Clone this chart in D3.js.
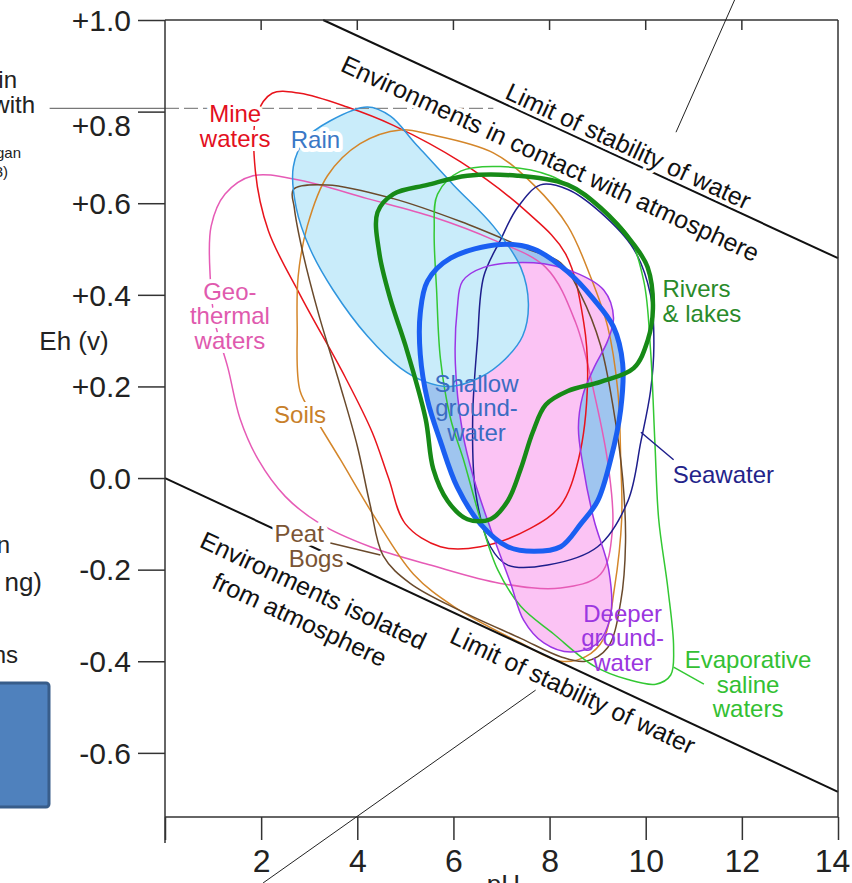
<!DOCTYPE html>
<html>
<head>
<meta charset="utf-8">
<script src="https://cdn.jsdelivr.net/npm/d3@7"></script>
<style>
  body { margin: 0; background: #fff; overflow: hidden; }
  svg { display: block; font-family: 'Liberation Sans', Arial, sans-serif; }
</style>
</head>
<body>
<script>
// axis ticks
const phTicks = [0, 2, 4, 6, 8, 10, 12, 14]
const ehTicks = [1.0, 0.8, 0.6, 0.4, 0.2, 0.0, -0.2, -0.4, -0.6]

// limits of stability of water [pH, Eh]
const upperLimit = [[3.29, 1.0], [14, 0.48]]
const lowerLimit = [[0, 0], [14, -0.685]]

// outlines of the water environments [pH, Eh]
const minePts = [[1.90, 0.79], [2.23, 0.84], [2.81, 0.84], [3.79, 0.81], [4.75, 0.77], [6.15, 0.69],
  [7.54, 0.58], [8.33, 0.49], [8.71, 0.34], [8.79, 0.21], [8.60, 0.04], [8.23, -0.06], [7.60, -0.11],
  [6.56, -0.15], [5.73, -0.15], [5.00, -0.10], [4.65, 0.00], [4.31, 0.10], [3.75, 0.22], [2.81, 0.40],
  [2.15, 0.54], [1.88, 0.67]]

const rainPts = [[2.67, 0.68], [2.92, 0.74], [3.44, 0.78], [4.21, 0.81], [4.69, 0.79], [5.21, 0.73],
  [6.00, 0.64], [6.83, 0.55], [7.40, 0.46], [7.56, 0.38], [7.44, 0.31], [7.08, 0.26], [6.56, 0.22],
  [5.94, 0.20], [5.42, 0.21], [4.90, 0.24], [4.21, 0.31], [3.50, 0.41], [3.02, 0.50], [2.73, 0.59]]

const geoPts = [[0.94, 0.44], [0.96, 0.55], [1.25, 0.62], [1.83, 0.66], [2.81, 0.65], [4.21, 0.61],
  [5.58, 0.57], [6.83, 0.52], [7.92, 0.46], [8.54, 0.34], [8.96, 0.17], [9.23, 0.02], [9.31, -0.11],
  [9.06, -0.21], [8.23, -0.24], [6.98, -0.23], [5.52, -0.19], [4.27, -0.15], [3.23, -0.10],
  [2.50, -0.04], [1.94, 0.04], [1.56, 0.13], [1.31, 0.24], [1.04, 0.34]]

const soilPts = [[2.81, 0.19], [2.75, 0.33], [2.77, 0.44], [2.96, 0.55], [3.38, 0.66], [4.06, 0.73],
  [4.90, 0.76], [5.52, 0.75], [6.83, 0.71], [7.67, 0.64], [8.38, 0.55], [8.85, 0.44], [9.21, 0.33],
  [9.42, 0.19], [9.48, 0.04], [9.50, -0.09], [9.35, -0.24], [9.13, -0.35], [8.75, -0.39], [8.23, -0.40],
  [7.40, -0.36], [6.00, -0.28], [5.17, -0.21], [4.33, -0.08], [3.65, 0.04], [3.13, 0.13]]

const peatPts = [[2.67, 0.63], [3.38, 0.64], [4.75, 0.61], [6.15, 0.56], [7.54, 0.50], [8.23, 0.47],
  [8.65, 0.40], [9.06, 0.29], [9.33, 0.15], [9.52, 0.00], [9.58, -0.14], [9.48, -0.27], [9.21, -0.37],
  [8.75, -0.40], [8.23, -0.39], [7.40, -0.35], [6.15, -0.29], [5.10, -0.23], [4.54, -0.17],
  [4.27, -0.06], [4.00, 0.07], [3.65, 0.20], [3.19, 0.36], [2.85, 0.50], [2.69, 0.59]]

const riverPts = [[4.42, 0.58], [4.75, 0.62], [5.46, 0.64], [6.29, 0.66], [7.33, 0.66], [8.38, 0.64],
  [9.06, 0.59], [9.75, 0.51], [10.04, 0.46], [10.15, 0.37], [10.04, 0.30], [9.75, 0.24], [9.06, 0.21],
  [8.38, 0.19], [7.92, 0.16], [7.65, 0.10], [7.40, 0.02], [7.13, -0.05], [6.77, -0.09], [6.29, -0.09],
  [5.88, -0.05], [5.58, 0.02], [5.42, 0.13], [5.00, 0.29], [4.69, 0.39], [4.46, 0.49]]

const evapPts = [[5.67, 0.62], [6.15, 0.67], [6.98, 0.68], [8.02, 0.66], [8.92, 0.60], [9.63, 0.53],
  [9.96, 0.43], [10.10, 0.28], [10.19, 0.08], [10.27, -0.09], [10.46, -0.24], [10.58, -0.37],
  [10.52, -0.43], [10.21, -0.45], [9.63, -0.44], [8.92, -0.41], [8.08, -0.34], [7.40, -0.28],
  [6.92, -0.20], [6.56, -0.09], [6.21, 0.04], [5.94, 0.13], [5.73, 0.26], [5.65, 0.41], [5.60, 0.54]]

const seaPts = [[7.81, 0.64], [8.38, 0.63], [9.06, 0.58], [9.75, 0.50], [10.10, 0.40], [10.17, 0.29],
  [10.10, 0.19], [9.90, 0.08], [9.63, -0.05], [9.00, -0.15], [7.96, -0.19], [7.13, -0.19],
  [6.77, -0.15], [6.46, -0.03], [6.40, 0.13], [6.50, 0.30], [6.63, 0.44], [6.98, 0.52], [7.33, 0.59]]

const shallowPts = [[5.46, 0.43], [5.94, 0.48], [6.98, 0.51], [7.67, 0.50], [8.38, 0.45], [8.92, 0.39],
  [9.33, 0.33], [9.52, 0.25], [9.48, 0.15], [9.27, 0.04], [9.00, -0.05], [8.65, -0.10], [8.23, -0.15],
  [7.67, -0.16], [7.13, -0.15], [6.56, -0.10], [6.08, -0.02], [5.73, 0.08], [5.46, 0.17], [5.31, 0.27],
  [5.31, 0.36]]

const deeperPts = [[6.08, 0.37], [6.19, 0.43], [6.63, 0.46], [7.67, 0.47], [8.50, 0.45], [9.13, 0.41],
  [9.33, 0.35], [9.21, 0.30], [8.92, 0.24], [8.69, 0.18], [8.60, 0.11], [8.69, 0.03], [8.92, -0.09],
  [9.23, -0.20], [9.27, -0.30], [9.00, -0.36], [8.44, -0.38], [7.88, -0.36], [7.46, -0.31],
  [7.19, -0.23], [6.77, -0.11], [6.42, 0.00], [6.19, 0.10], [6.04, 0.25]]

// leader lines [pH, Eh]
const grayLine = [[-2.4, 0.807], [0, 0.807], [6.83, 0.807]]
const topLeader = [[11.85, 1.044], [10.63, 0.755]]
const bottomLeader = [[2.04, -0.884], [7.71, -0.463]]
const seaLeader = [[9.90, 0.10], [10.58, 0.04]]
const evapLeader = [[10.58, -0.413], [11.21, -0.45]]
const peatLeader = [[3.44, -0.142], [4.48, -0.168]]

const W = 852, H = 883
const x = d3.scaleLinear().domain([0, 14]).range([165, 838])
const y = d3.scaleLinear().domain([-0.74, 1.0]).range([817, 20])

const svg = d3.select('body')
  .append('svg')
  .attr('width', W)
  .attr('height', H)

const closed = d3.line()
  .x(d => x(d[0]))
  .y(d => y(d[1]))
  .curve(d3.curveCatmullRomClosed.alpha(0.5))

const straight = d3.line()
  .x(d => x(d[0]))
  .y(d => y(d[1]))

// fills
svg.append('path').attr('d', closed(shallowPts)).attr('fill', '#9fc5ef')
svg.append('path').attr('d', closed(deeperPts)).attr('fill', '#fbc3f4')
svg.append('path').attr('d', closed(rainPts)).attr('fill', '#c9ecfa')

// gray line at top left
svg.append('path').attr('d', straight(grayLine.slice(0, 2)))
  .attr('stroke', '#777').attr('stroke-width', 1.2).attr('fill', 'none')
svg.append('path').attr('d', straight(grayLine.slice(1)))
  .attr('stroke', '#888').attr('stroke-width', 1.2).attr('fill', 'none')
  .attr('stroke-dasharray', '14,5')

const outlines = [
  [geoPts, '#e65bb6', 1.5],
  [minePts, '#e8141c', 1.5],
  [soilPts, '#d4862a', 1.5],
  [peatPts, '#6a4a2c', 1.5],
  [seaPts, '#1e1e8c', 1.5],
  [evapPts, '#33c833', 1.5],
  [deeperPts, '#9b35e6', 1.5],
  [rainPts, '#2f95de', 1.5],
  [shallowPts, '#1a5ff2', 5],
  [riverPts, '#178a17', 4.5]
]

svg.append('g')
  .selectAll('path')
  .data(outlines)
  .join('path')
  .attr('d', d => closed(d[0]))
  .attr('fill', 'none')
  .attr('stroke', d => d[1])
  .attr('stroke-width', d => d[2])

// stability lines
svg.selectAll('.limit')
  .data([upperLimit, lowerLimit])
  .join('path')
  .attr('class', 'limit')
  .attr('d', straight)
  .attr('stroke', '#111')
  .attr('stroke-width', 2)
  .attr('fill', 'none')

// axes
const axisColor = '#333'
const xAxis = svg.append('g')
  .attr('transform', `translate(0,${y(-0.74)})`)
  .call(d3.axisBottom(x).tickValues(phTicks).tickSize(23).tickFormat(d => d === 0 ? '' : d))
xAxis.select('.domain').remove()
xAxis.selectAll('line').attr('stroke', axisColor).attr('stroke-width', 1.5)
xAxis.selectAll('text')
  .attr('y', 55).attr('dy', 0)
  .attr('x', d => d === 14 ? -6 : 0)
  .attr('font-size', 32).attr('fill', '#222')
  .attr('font-family', 'Liberation Sans, Arial, sans-serif')

const yAxis = svg.append('g')
  .attr('transform', `translate(${x(0)},0)`)
  .call(d3.axisLeft(y).tickValues(ehTicks).tickSize(27).tickPadding(7)
    .tickFormat(d => d > 0 ? '+' + d.toFixed(1) : d.toFixed(1)))
yAxis.select('.domain').remove()
yAxis.selectAll('line').attr('stroke', axisColor).attr('stroke-width', 1.5)
yAxis.selectAll('text')
  .attr('font-size', 30).attr('fill', '#222')
  .attr('font-family', 'Liberation Sans, Arial, sans-serif')
  .attr('dy', d => d === 0.8 ? '0.78em' : '0.34em')

// frame
const frame = [
  [[0, 1.0], [14, 1.0]],
  [[14, 1.0], [14, -0.74]],
  [[0, -0.74], [14, -0.74]],
  [[0, 1.0], [0, -0.74]]
]
svg.selectAll('.frame')
  .data(frame)
  .join('path')
  .attr('class', 'frame')
  .attr('d', straight)
  .attr('stroke', axisColor)
  .attr('stroke-width', 1.5)
  .attr('fill', 'none')
// axis line runs a bit past the corner
svg.append('line')
  .attr('x1', x(0)).attr('x2', x(0)).attr('y1', y(-0.74)).attr('y2', y(-0.74) + 26)
  .attr('stroke', axisColor).attr('stroke-width', 1.5)
// small inner ticks on top
svg.selectAll('.topTick')
  .data(phTicks.slice(1, -1))
  .join('line')
  .attr('class', 'topTick')
  .attr('x1', d => x(d)).attr('x2', d => x(d))
  .attr('y1', y(1.0)).attr('y2', y(1.0) + 10)
  .attr('stroke', axisColor).attr('stroke-width', 1.5)

// leaders
const leaders = [
  [topLeader, '#222', 1],
  [bottomLeader, '#222', 1],
  [seaLeader, '#1e1e8c', 1.5],
  [evapLeader, '#33c833', 1.5],
  [peatLeader, '#6a4a2c', 1.5]
]
svg.append('g')
  .selectAll('path')
  .data(leaders)
  .join('path')
  .attr('d', d => straight(d[0]))
  .attr('stroke', d => d[1])
  .attr('stroke-width', d => d[2])
  .attr('fill', 'none')

// axis titles
svg.append('text')
  .attr('x', 74).attr('y', y(0.30) + 9)
  .attr('text-anchor', 'middle')
  .attr('font-size', 26).attr('fill', '#222')
  .text('Eh (v)')

svg.append('text')
  .attr('x', x(7.04)).attr('y', 893)
  .attr('text-anchor', 'middle')
  .attr('font-size', 26).attr('fill', '#222')
  .text('pH')

// environment labels
const labels = [
  { lines: ['Mine', 'waters'], at: [1.46, 0.777], color: '#e3101e', halo: true },
  { lines: ['Rain'], at: [3.13, 0.72], color: '#3a78c6', halo: true },
  { lines: ['Geo-', 'thermal', 'waters'], at: [1.35, 0.389], color: '#e05aae', halo: true },
  { lines: ['Soils'], at: [2.81, 0.12], color: '#c8802a', halo: true },
  { lines: ['Peat', 'Bogs'], at: [2.79, -0.14], color: '#7a5434', halo: true, shift: [0, 17] },
  { lines: ['Shallow', 'ground-', 'water'], at: [6.48, 0.188], color: '#3b6cc2', halo: false },
  { lines: ['Rivers', '& lakes'], at: [10.35, 0.395], color: '#2a8a2a', halo: true, anchor: 'start' },
  { lines: ['Seawater'], at: [10.56, -0.011], color: '#23238a', halo: true, anchor: 'start' },
  { lines: ['Deeper', 'ground-', 'water'], at: [9.52, -0.314], color: '#9b36e0', halo: false },
  { lines: ['Evaporative', 'saline', 'waters'], at: [12.13, -0.415], color: '#33c033', halo: true }
]

labels.forEach(l => {
  const t = svg.append('text')
    .attr('x', x(l.at[0]))
    .attr('y', y(l.at[1]))
    .attr('text-anchor', l.anchor || 'middle')
    .attr('font-size', 24)
    .attr('fill', l.color)
  if (l.halo) {
    t.attr('stroke', '#fff').attr('stroke-width', 8)
      .attr('stroke-linejoin', 'round').attr('paint-order', 'stroke')
  }
  t.selectAll('tspan')
    .data(l.lines)
    .join('tspan')
    .attr('x', (d, i) => x(l.at[0]) + (l.shift ? l.shift[i] : 0))
    .attr('dy', (d, i) => i === 0 ? 0 : 24.5)
    .text(d => d)
})

// labels along the stability lines
const onLine = (line, ph) => {
  const [[p1, e1], [p2, e2]] = line
  return [ph, e1 + (e2 - e1) * (ph - p1) / (p2 - p1)]
}
const angleOf = line => {
  const [[p1, e1], [p2, e2]] = line
  return Math.atan2(y(e2) - y(e1), x(p2) - x(p1)) * 180 / Math.PI
}

const lineLabels = [
  { line: upperLimit, ph: 9.52, lines: ['Limit of stability of water'], dy: [-5] },
  { line: upperLimit, ph: 8.28, lines: ['Environments in contact with atmosphere'], dy: [39] },
  { line: lowerLimit, ph: 3.43, lines: ['Environments isolated', 'from atmosphere'], dy: [48, 80] },
  { line: lowerLimit, ph: 8.66, lines: ['Limit of stability of water'], dy: [29] }
]

lineLabels.forEach(l => {
  const p = onLine(l.line, l.ph)
  const g = svg.append('g')
    .attr('transform', `translate(${x(p[0])},${y(p[1])}) rotate(${angleOf(l.line)})`)
  g.selectAll('text')
    .data(l.lines)
    .join('text')
    .attr('x', 0)
    .attr('y', (d, i) => l.dy[i])
    .attr('text-anchor', 'middle')
    .attr('font-size', 25)
    .attr('fill', '#111')
    .attr('stroke', '#fff').attr('stroke-width', 7)
    .attr('stroke-linejoin', 'round').attr('paint-order', 'stroke')
    .text(d => d)
})

// cropped bits of the slide on the left
const sideText = [
  ['in', 17, 88, 24], ['with', 35, 113, 24], ['gan', 21, 158, 15], ['3)', 8, 177, 15],
  ['n', 10, 553, 24], ['ng)', 42, 591, 26], ['ns', 18, 663, 24]
]
svg.selectAll('.side')
  .data(sideText)
  .join('text')
  .attr('class', 'side')
  .attr('x', d => d[1]).attr('y', d => d[2])
  .attr('text-anchor', 'end')
  .attr('font-size', d => d[3])
  .attr('fill', '#222')
  .text(d => d[0])

svg.append('rect')
  .attr('x', -10).attr('y', 683)
  .attr('width', 59).attr('height', 124)
  .attr('rx', 3)
  .attr('fill', '#4f81bd')
  .attr('stroke', '#385d8a')
  .attr('stroke-width', 3)
</script>
</body>
</html>
